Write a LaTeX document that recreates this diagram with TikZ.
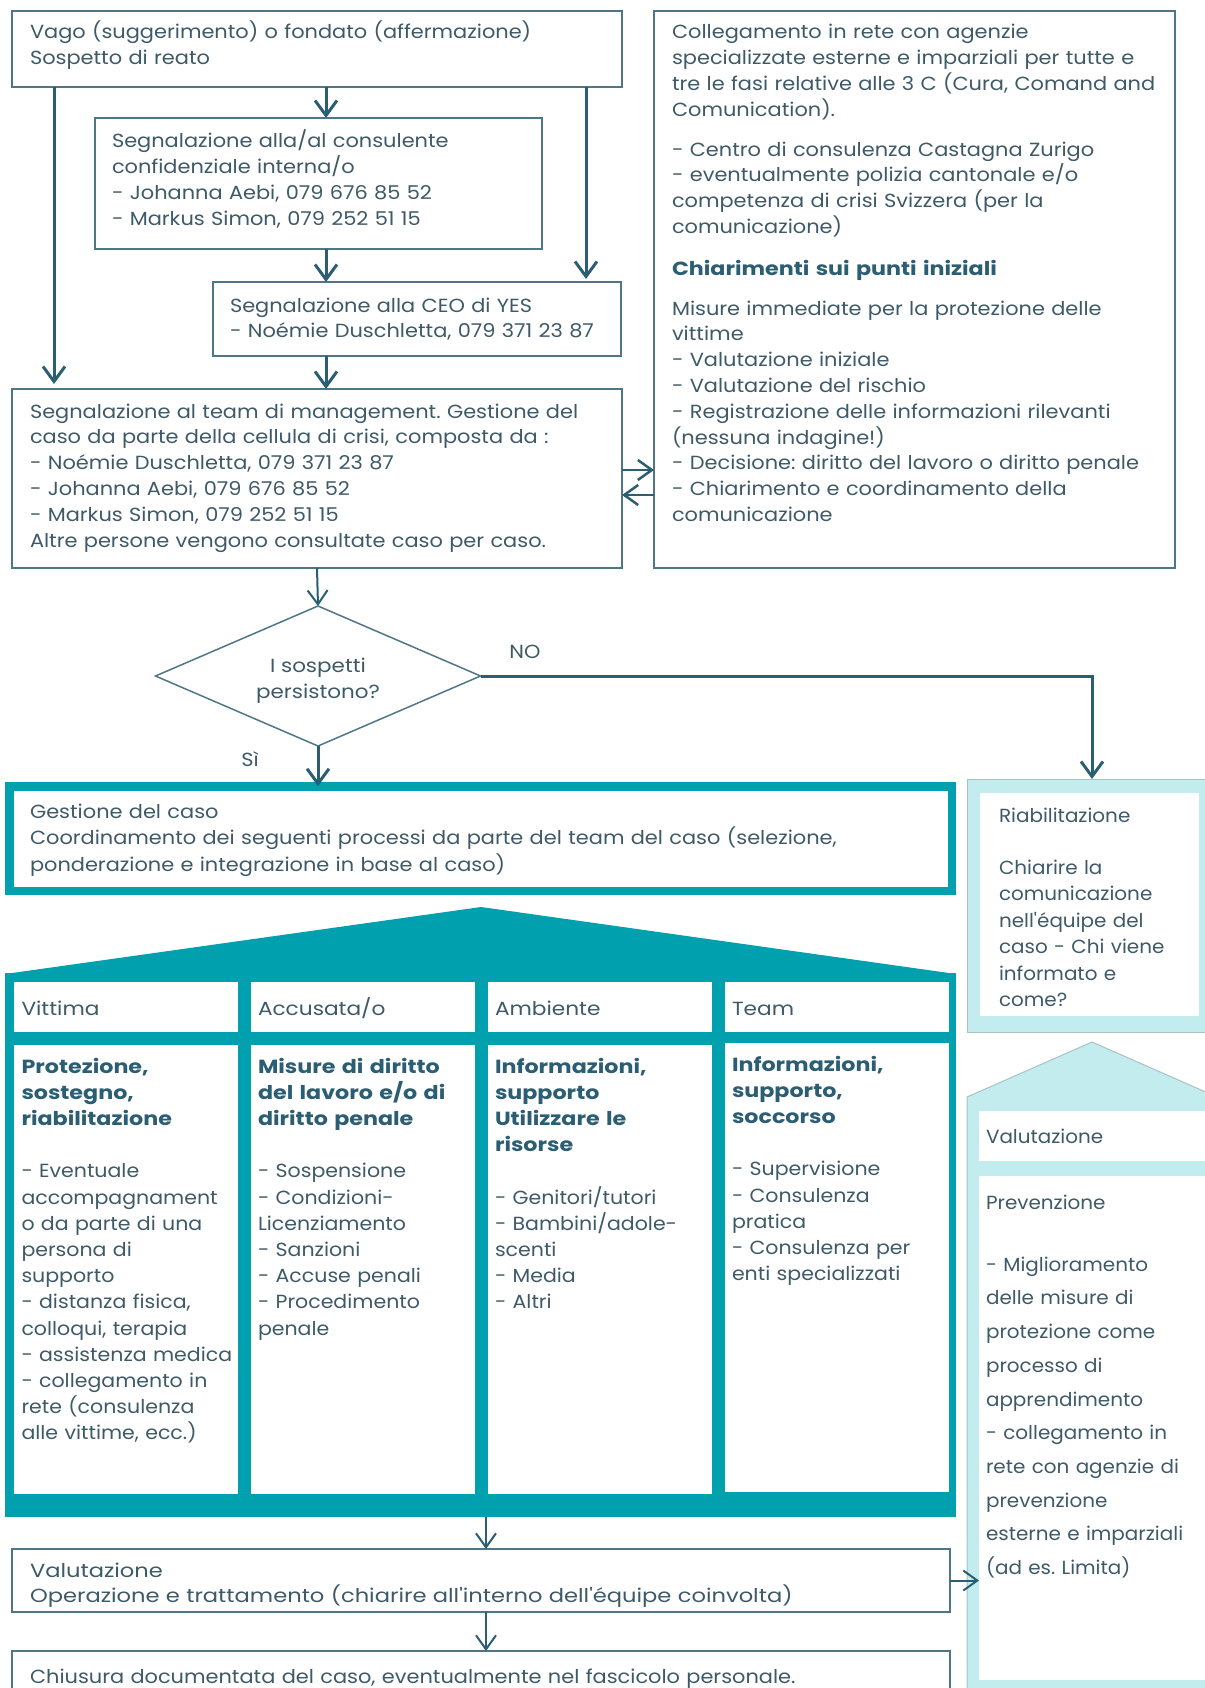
\documentclass[tikz,border=0pt]{standalone}
\usepackage{fontspec}
\setmainfont{Poppins}[FakeStretch=1.10, BoldFeatures={FakeStretch=1.17}]
\newfontfamily\fBig{Poppins}[FakeStretch=1.19]
\newfontfamily\fHead{Poppins}[FakeStretch=1.14]
\newfontfamily\fDia{Poppins}[FakeStretch=1.13]
\newfontfamily\fCy{Poppins}[FakeStretch=1.05]
\newfontfamily\fCol{Poppins}[FakeStretch=1.08, BoldFeatures={FakeStretch=1.17}]
\usetikzlibrary{arrows.meta,shapes.geometric}
\definecolor{txtc}{HTML}{3E5A68}
\definecolor{darkc}{HTML}{2B5E72}
\definecolor{boxc}{HTML}{4F7687}
\definecolor{tealc}{HTML}{00A0AE}
\definecolor{cyanc}{HTML}{C3ECEE}
\definecolor{cyanb}{HTML}{A8C2C6}
\newcommand{\fsN}{\fontsize{19}{25.8}\selectfont}
\newcommand{\fsC}{\fCol\fontsize{19}{26.2}\selectfont}
\newcommand{\fsR}{\fCy\fontsize{19}{26.4}\selectfont}
\newcommand{\fsP}{\fCy\fontsize{19}{33.7}\selectfont}
\newcommand{\hb}[1]{{\bfseries\color{darkc}#1}}
\newcommand{\apo}{\symbol{39}}
\frenchspacing
\begin{document}
\frenchspacing
\begin{tikzpicture}[x=1pt,y=-1pt,
  every node/.style={inner sep=0pt, outer sep=0pt},
  box/.style={draw=boxc, line width=1.5pt, anchor=north west, fill=white},
  cell/.style={fill=white, anchor=north west},
  txt/.style={anchor=base west, align=left, text width=#1, text=txtc, font=\fsN},
  txt/.default=560pt,
  arr/.style={draw=darkc, line width=3pt, -{Straight Barb[length=15pt,width=22pt]}},
  arrt/.style={draw=darkc, line width=2pt, -{Straight Barb[length=14pt,width=20pt]}},
  ]
\useasboundingbox (0,0) rectangle (1204,1688);

% ---------- top flow boxes ----------
\node[box, minimum width=610pt, minimum height=76pt] (b1) at (12,11) {};
\node[box, minimum width=447pt, minimum height=131pt] (b2) at (95,118) {};
\node[box, minimum width=408pt, minimum height=74pt] (b3) at (213,282) {};
\node[box, minimum width=610pt, minimum height=179pt] (b4) at (12,389) {};
\node[box, minimum width=521pt, minimum height=557pt] (rb) at (654,11) {};

\node[txt] (t1) at (30,39) {Vago (suggerimento) o fondato (affermazione)\\Sospetto di reato};
\node[txt] (t2) at (112,148) {Segnalazione alla/al consulente\\confidenziale interna/o\\- Johanna Aebi, 079 676 85 52\\- Markus Simon, 079 252 51 15};
\node[txt] (t3) at (230,312) {Segnalazione alla CEO di YES\\- Noémie Duschletta, 079 371 23 87};
\node[txt] (t4) at (30,418) {Segnalazione al team di management. Gestione del\\caso da parte della cellula di crisi, composta da :\\- Noémie Duschletta, 079 371 23 87\\- Johanna Aebi, 079 676 85 52\\- Markus Simon, 079 252 51 15\\Altre persone vengono consultate caso per caso.};
\node[txt=500pt] (trb) at (672,39) {Collegamento in rete con agenzie\\specializzate esterne e imparziali per tutte e\\tre le fasi relative alle 3 C (Cura, Comand and\\Comunication).\\[14pt]- Centro di consulenza Castagna Zurigo\\- eventualmente polizia cantonale e/o\\competenza di crisi Svizzera (per la\\comunicazione)\\[16pt]\hb{Chiarimenti sui punti iniziali}\\[14pt]Misure immediate per la protezione delle\\vittime\\- Valutazione iniziale\\- Valutazione del rischio\\- Registrazione delle informazioni rilevanti\\(nessuna indagine!)\\- Decisione: diritto del lavoro o diritto penale\\- Chiarimento e coordinamento della\\comunicazione};

% ---------- top arrows ----------
\coordinate (xa) at (326,0);
\coordinate (xl) at (54,0);
\coordinate (xr) at (586,0);
\coordinate (xd) at (317,0);
\coordinate (ya) at (0,470);
\coordinate (yb) at (0,495);
\draw[arr] (b1.south -| xa) -- (b2.north -| xa);
\draw[arr] (b2.south -| xa) -- (b3.north -| xa);
\draw[arr] (b3.south -| xa) -- (b4.north -| xa);
\draw[arr, shorten >=5pt] (b1.south -| xl) -- (b4.north -| xl);
\draw[arr, shorten >=3pt] (b1.south -| xr) -- (b3.north -| xr);
\draw[arrt, line width=2.5pt] (b4.east |- ya) -- (rb.west |- ya);
\draw[arrt, line width=2.5pt] (rb.west |- yb) -- (b4.east |- yb);

% ---------- decision ----------
\node[diamond, draw=boxc, line width=1.5pt, aspect=2.3, minimum width=325pt, minimum height=140pt] (dia) at (318,676) {};
\node[align=center, text=txtc, font=\fDia\fontsize{19}{25.8}\selectfont] (tdia) at (318,681) {I sospetti\\persistono?};
\node[text=txtc, font=\fsN] (no) at (525,652) {NO};
\node[text=txtc, font=\fsN] (si) at (250,759) {Sì};
\draw[arrt] (b4.south -| xd) -- (dia.north);

% ---------- case management ----------
\node[draw=tealc, line width=8.5pt, fill=white, anchor=north west, minimum width=942.5pt, minimum height=104.5pt] (gest) at (9.25,786.25) {};
\node[txt=920pt, font=\fontsize{19}{26.5}\selectfont] (tg) at (30,818) {Gestione del caso\\Coordinamento dei seguenti processi da parte del team del caso (selezione,\\ponderazione e integrazione in base al caso)};
\draw[arr] (dia.south) -- (gest.north -| dia.south);

% ---------- house ----------
\coordinate (rl) at (5,974);
\coordinate (rt) at (481,907);
\coordinate (rr) at (956,974);
\fill[tealc] (rl) -- (rt) -- (rr) -- cycle;
\node[fill=tealc, anchor=north west, minimum width=951pt, minimum height=544pt] (house) at (5,973) {};
\node[cell, minimum width=224pt, minimum height=50pt] (h1) at (14,982) {};
\node[cell, minimum width=224pt, minimum height=50pt] (h2) at (251,982) {};
\node[cell, minimum width=224pt, minimum height=50pt] (h3) at (488,982) {};
\node[cell, minimum width=224pt, minimum height=50pt] (h4) at (725,982) {};
\node[cell, minimum width=224pt, minimum height=449pt] (c1) at (14,1045) {};
\node[cell, minimum width=224pt, minimum height=449pt] (c2) at (251,1045) {};
\node[cell, minimum width=224pt, minimum height=449pt] (c3) at (488,1045) {};
\node[cell, minimum width=224pt, minimum height=449pt] (c4) at (725,1043) {};
\node[txt=215pt, font=\fHead\fsN] (th1) at (21.5,1015) {Vittima};
\node[txt=215pt, font=\fHead\fsN] (th2) at (258,1015) {Accusata/o};
\node[txt=215pt, font=\fHead\fsN] (th3) at (495,1015) {Ambiente};
\node[txt=215pt, font=\fHead\fsN] (th4) at (732,1015) {Team};
\node[txt=215pt, font=\fsC] (tc1) at (21.5,1073) {\hb{Protezione,\\sostegno,\\riabilitazione}\\[26.2pt]- Eventuale\\accompagnament\\o da parte di una\\persona di\\supporto\\- distanza fisica,\\colloqui, terapia\\- assistenza medica\\- collegamento in\\rete (consulenza\\alle vittime, ecc.)};
\node[txt=215pt, font=\fsC] (tc2) at (258,1073) {\hb{Misure di diritto\\del lavoro e/o di\\diritto penale}\\[26.2pt]- Sospensione\\- Condizioni-\\Licenziamento\\- Sanzioni\\- Accuse penali\\- Procedimento\\penale};
\node[txt=215pt, font=\fsC] (tc3) at (495,1073) {\hb{Informazioni,\\supporto\\Utilizzare le\\risorse}\\[26.2pt]- Genitori/tutori\\- Bambini/adole-\\scenti\\- Media\\- Altri};
\node[txt=215pt, font=\fsC] (tc4) at (732,1071) {\hb{Informazioni,\\supporto,\\soccorso}\\[26.2pt]- Supervisione\\- Consulenza\\pratica\\- Consulenza per\\enti specializzati};

% ---------- bottom boxes ----------
\node[box, minimum width=938pt, minimum height=63pt] (val) at (12,1549) {};
\node[box, minimum width=938pt, minimum height=60pt] (chi) at (12,1651) {};
\node[txt=900pt, font=\fBig\fontsize{19}{25}\selectfont] (tv) at (30,1577) {Valutazione\\Operazione e trattamento (chiarire all\apo interno dell\apo équipe coinvolta)};
\node[txt=900pt] (tch) at (30,1683) {Chiusura documentata del caso, eventualmente nel fascicolo personale.};
\coordinate (xb) at (486,0);
\draw[arrt] (house.south -| xb) -- (val.north -| xb);
\draw[arrt] (val.south -| xb) -- (chi.north -| xb);

% ---------- right cyan panel ----------
\node[fill=cyanc, draw=cyanb, line width=1pt, anchor=north west, minimum width=245pt, minimum height=253pt] (riab) at (967,779) {};
\node[cell, minimum width=219pt, minimum height=223pt] (riabin) at (980,793) {};
\node[txt=215pt, font=\fsR] (triab) at (999,822) {Riabilitazione\\[26pt]Chiarire la\\comunicazione\\nell\apo équipe del\\caso - Chi viene\\informato e\\come?};
\coordinate (cl) at (967,1097);
\coordinate (ct) at (1092,1042);
\coordinate (cr) at (1217,1097);
\filldraw[fill=cyanc, draw=cyanb, line width=1pt] (967,1700) -- (cl) -- (ct) -- (cr) -- (1217,1700) -- cycle;
\node[cell, minimum width=240pt, minimum height=50pt] (cval) at (979,1111) {};
\node[cell, minimum width=240pt, minimum height=504pt] (prev) at (979,1176) {};
\node[txt=215pt, font=\fCy\fsN] (tcval) at (986,1143) {Valutazione};
\node[txt=215pt, font=\fsP] (tprev) at (986,1209) {Prevenzione\\[28.5pt]- Miglioramento\\delle misure di\\protezione come\\processo di\\apprendimento\\- collegamento in\\rete con agenzie di\\prevenzione\\esterne e imparziali\\(ad es. Limita)};
\coordinate (xno) at (1092,0);
\draw[arr] (dia.east) -| (riab.north -| xno);
\draw[arrt] (val.east) -- (prev.west |- val.east);
\end{tikzpicture}
\end{document}
